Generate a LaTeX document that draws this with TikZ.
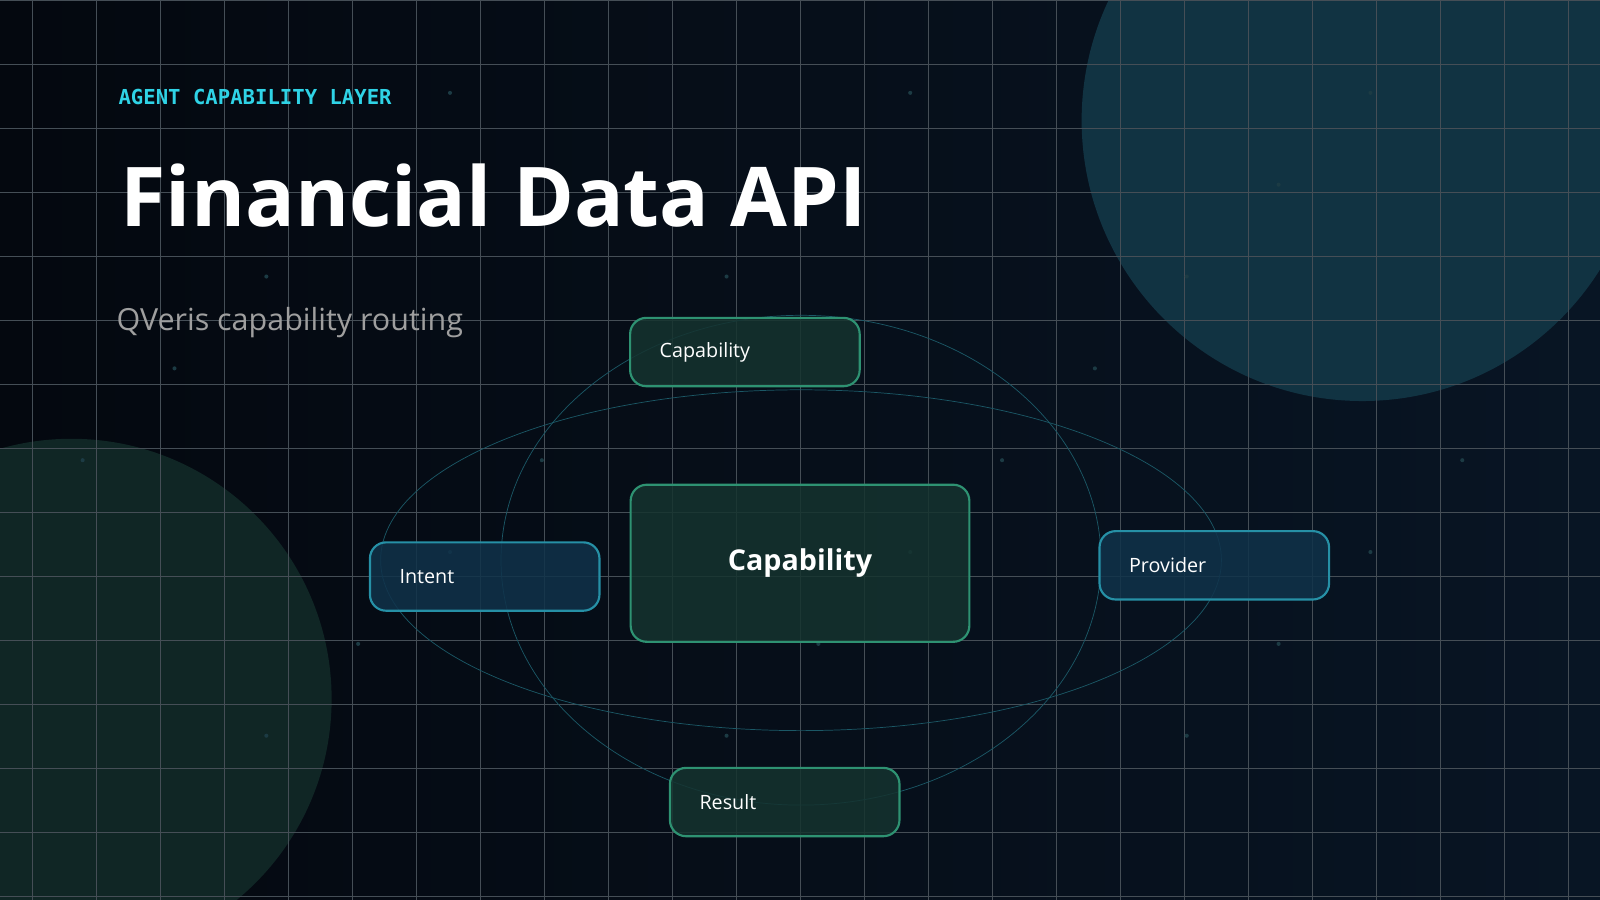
\documentclass[tikz,border=0pt]{standalone}
\usepackage{fontspec}
\setmainfont{Open Sans}
\newfontfamily\monof{DejaVu Sans Mono}
\usetikzlibrary{positioning}
\definecolor{bgA}{HTML}{04080F}
\definecolor{bgB}{HTML}{081524}
\definecolor{gridc}{HTML}{16222C}
\definecolor{cyanc}{HTML}{2FD3E6}
\definecolor{orbitc}{HTML}{1B5866}
\definecolor{greenf}{HTML}{15332F}
\definecolor{greend}{HTML}{2E9272}
\definecolor{bluef}{HTML}{10324A}
\definecolor{blued}{HTML}{2690A6}
\definecolor{dotc}{HTML}{1C3B44}
\tikzset{
  capbox/.style={draw=greend, fill=greenf, fill opacity=0.85, text opacity=1, line width=1.2pt,
    rounded corners=9pt, inner xsep=0.58cm,
    minimum width=4.5cm, minimum height=1.34cm, text=white, font=\fontsize{11}{13}\selectfont,
    align=left, text width=3.34cm},
  ioxbox/.style={capbox, draw=blued, fill=bluef},
}
\begin{document}
\begin{tikzpicture}[x=0.02cm, y=-0.02cm]
  % background
  \shade[left color=bgA, right color=bgB] (0,0) rectangle (1568,882);
  \useasboundingbox (0,0) rectangle (1568,882);
  \fill[orbitc!45!bgB] (1335,118) circle [radius=275];
  \fill[greenf!70!bgA] (70,685) circle [radius=255];

  % grid
  \foreach \x in {32,94.7,...,1568} \draw[gridc!80, very thin] (\x,0) -- (\x,882);
  \foreach \y in {0,62.7,...,882} \draw[gridc!80, very thin] (0,\y) -- (1568,\y);
  \foreach \x/\y in {441/91, 892/91, 1343/91, 261/271, 712/271, 1163/271, 171/361, 1073/361,
      81/451, 531/451, 982/451, 1433/451, 892/541, 1343/541, 351/631, 802/631, 1253/631,
      261/721, 712/721, 1163/721, 1253/181, 441/541}
    \fill[dotc] (\x,\y) circle [radius=2];

  % headings
  \node[anchor=west, text=cyanc, font=\monof\bfseries\fontsize{11.5}{13}\selectfont] (tag) at (110,95) {AGENT CAPABILITY LAYER};
  \node[anchor=west, text=white, font=\bfseries\fontsize{46}{50}\selectfont] (title) at (112,192) {Financial Data API};
  \node[anchor=west, text=gray!75, font=\fontsize{17}{20}\selectfont] (sub) at (108,316) {QVeris capability routing};

  % orbits
  \draw[orbitc, thin] (785,549) ellipse [x radius=412, y radius=167];
  \draw[orbitc, thin] (785,549) ellipse [x radius=294, y radius=240];

  % nodes
  \node[capbox, minimum width=6.64cm, minimum height=3.08cm, text width=5.4cm, align=center,
    font=\bfseries\fontsize{16}{18}\selectfont] (core) at (784,552) {Capability};
  \node[capbox] (top) at (730,345) {Capability};
  \node[ioxbox] (intent) at (475,565) {Intent};
  \node[ioxbox] (prov) at (1190,554) {Provider};
  \node[capbox] (res) at (769,786) {Result};
\end{tikzpicture}
\end{document}
